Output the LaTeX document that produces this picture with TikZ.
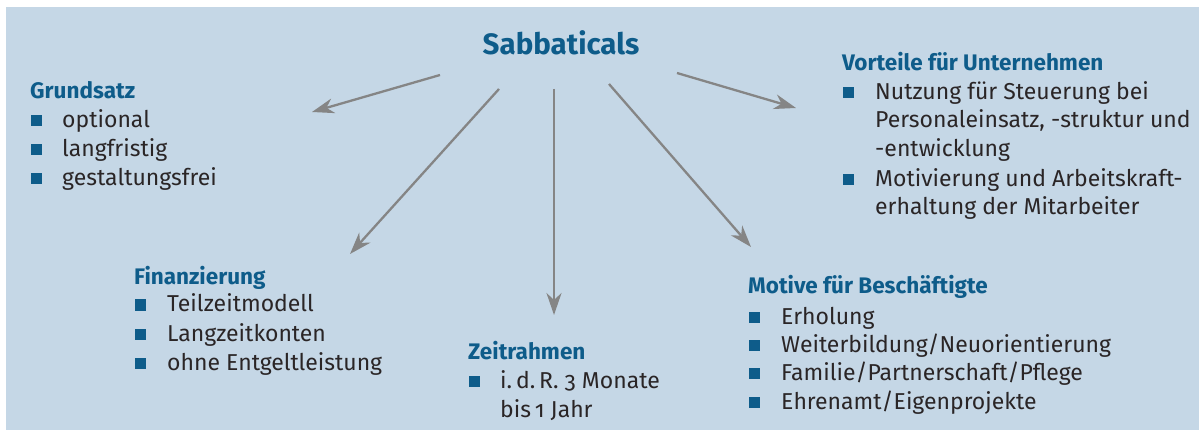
\documentclass[tikz,border=0pt]{standalone}
\usepackage{fontspec}
\setmainfont{Fira Sans}[Numbers=OldStyle]
\usetikzlibrary{arrows.meta}
\definecolor{sabback}{HTML}{C5D7E6}
\definecolor{sabblue}{HTML}{0E5C8A}
\definecolor{sabtext}{HTML}{2A2526}
\definecolor{sabgray}{HTML}{858585}
\tikzset{
	heading/.style={anchor=base west, inner sep=0pt, text=sabblue, font=\fontsize{22.5}{26}\selectfont\bfseries},
	entry/.style={anchor=base west, inner sep=0pt, text=sabtext, font=\fontsize{23}{27}\selectfont},
	sqbullet/.style={rectangle, fill=sabblue, inner sep=0pt, minimum size=11pt},
	spoke/.style={draw=sabgray, line width=2.3pt, -{Stealth[length=22pt, width=15pt, inset=7pt]}}
}
\begin{document}
\begin{tikzpicture}[x=1pt, y=-1pt]
		    \useasboundingbox (0,0) rectangle (1199,430);
		    \fill[sabback] (6,7) rectangle (1199,430);
		    
		    \node [anchor=base, inner sep=0pt, text=sabblue, font=\fontsize{29.5}{34}\selectfont\bfseries] (title) at (561,55) {Sabbaticals};
		    
		    
		    \node [heading] (GA) at (30,99) {Grundsatz};
		    \node [sqbullet] (GB) at (36.5,121) {};
		    \node [entry] (GC) at (62,128) {optional};
		    \node [sqbullet] (GD) at (36.5,150) {};
		    \node [entry] (GE) at (62,157) {langfristig};
		    \node [sqbullet] (GF) at (36.5,179) {};
		    \node [entry] (GG) at (62,186) {gestaltungsfrei};
		    
		    
		    \node [heading] (FA) at (134,284) {Finanzierung};
		    \node [sqbullet] (FB) at (140.5,305) {};
		    \node [entry] (FC) at (167,312) {Teilzeitmodell};
		    \node [sqbullet] (FD) at (140.5,334) {};
		    \node [entry] (FE) at (167,341) {Langzeitkonten};
		    \node [sqbullet] (FF) at (140.5,363) {};
		    \node [entry] (FG) at (167,370) {ohne Entgeltleistung};
		    
		    
		    \node [heading] (ZA) at (468,359) {Zeitrahmen};
		    \node [sqbullet] (ZB) at (474.5,381) {};
		    \node [entry] (ZC) at (500,388) {i.\,d.\,R. 3 Monate};
		    \node [entry] (ZD) at (500,417) {bis\,1 Jahr};
		    
		    
		    \node [heading] (MA) at (748,294) {Motive für Beschäftigte};
		    \node [sqbullet] (MB) at (754.5,317) {};
		    \node [entry] (MC) at (781,324) {Erholung};
		    \node [sqbullet] (MD) at (754.5,345) {};
		    \node [entry] (ME) at (781,352) {Weiterbildung/Neuorientierung};
		    \node [sqbullet] (MF) at (754.5,373) {};
		    \node [entry] (MG) at (781,380) {Familie/Partnerschaft/Pflege};
		    \node [sqbullet] (MH) at (754.5,402) {};
		    \node [entry] (MI) at (781,409) {Ehrenamt/Eigenprojekte};
		    
		    
		    \node [heading] (VA) at (842,71) {Vorteile für Unternehmen};
		    \node [sqbullet] (VB) at (848.5,93) {};
		    \node [entry] (VC) at (875,100) {Nutzung für Steuerung bei};
		    \node [entry] (VD) at (875,128) {Personaleinsatz, -struktur und};
		    \node [entry] (VE) at (875,157) {-entwicklung};
		    \node [sqbullet] (VF) at (848.5,180) {};
		    \node [entry] (VG) at (875,187) {Motivierung und Arbeitskraft-};
		    \node [entry] (VH) at (875,215) {erhaltung der Mitarbeiter};
		    
		    
		    \coordinate (SG) at (440,75);
		    \coordinate (EG) at (312,112);
		    \coordinate (SF) at (499,89);
		    \coordinate (EF) at (350,254);
		    \coordinate (SZ) at (554,89);
		    \coordinate (EZ) at (554,315);
		    \coordinate (SM) at (609,84);
		    \coordinate (EM) at (751,247);
		    \coordinate (SV) at (677,73);
		    \coordinate (EV) at (796,108);
		    
			\draw [spoke] (SG) -- (EG);
			\draw [spoke] (SF) -- (EF);
			\draw [spoke] (SZ) -- (EZ);
			\draw [spoke] (SM) -- (EM);
			\draw [spoke] (SV) -- (EV);
		\end{tikzpicture}
\end{document}
